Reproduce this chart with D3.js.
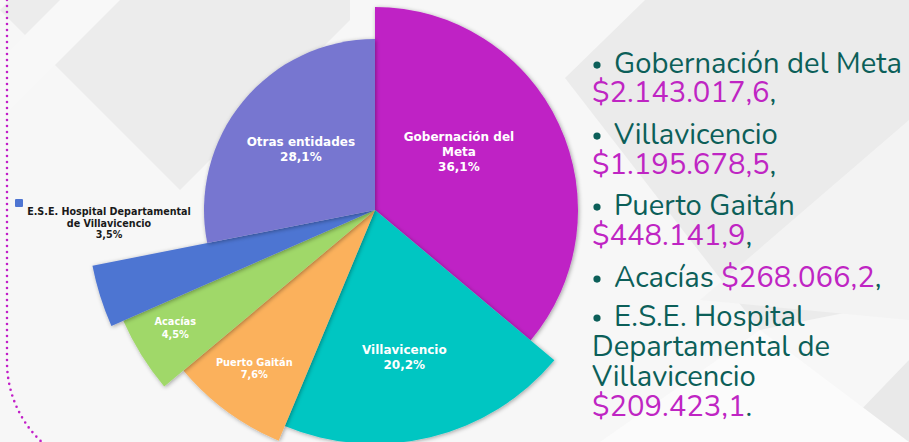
<!DOCTYPE html>
<html>
<head>
<meta charset="utf-8">
<script src="https://cdn.jsdelivr.net/npm/d3@7"></script>
<style>
  html, body { margin: 0; padding: 0; background: #f7f7f7; }
  svg { display: block; }
</style>
</head>
<body>
<div id="viz"></div>
<script>
// slices, clockwise from 12 o'clock
const names = ['Gobernación del Meta', 'Villavicencio', 'Puerto Gaitán', 'Acacías', 'E.S.E. Hospital Departamental de Villavicencio', 'Otras entidades'];
const pctLabels = ['36,1%', '20,2%', '7,6%', '4,5%', '3,5%', '28,1%'];
const shares = [36.1, 20.2, 7.6, 4.5, 3.5, 28.1];
// values listed on the right
const listNames = ['Gobernación del Meta', 'Villavicencio', 'Puerto Gaitán', 'Acacías', 'E.S.E. Hospital Departamental de Villavicencio'];
const listAmounts = ['$2.143.017,6', '$1.195.678,5', '$448.141,9', '$268.066,2', '$209.423,1'];

const colors = ['#bf23c5', '#06c6c2', '#fbb15c', '#a0d869', '#4e75d2', '#7776d0'];

const width = 909, height = 442;
const cx = 375, cy = 210;

const svg = d3.select('#viz').append('svg')
    .attr('width', width)
    .attr('height', height);

const defs = svg.append('defs');
const sh = defs.append('filter').attr('id', 'shadow')
    .attr('x', '-20%').attr('y', '-20%').attr('width', '140%').attr('height', '140%');
sh.append('feDropShadow').attr('dx', 1).attr('dy', 1).attr('stdDeviation', 2)
    .attr('flood-color', '#000').attr('flood-opacity', 0.35);

// slide background
const bg = svg.append('g');
bg.append('rect').attr('width', width).attr('height', height).attr('fill', '#f7f7f7');
bg.append('polygon').attr('points', '10,0 350,0 350,20 180,190 0,10').attr('fill', '#ececec');
bg.append('polygon').attr('points', '0,60 60,0 120,0 0,120').attr('fill', '#f8f8f8');
bg.append('polygon').attr('points', '565,78 645,0 909,0 909,300 760,330').attr('fill', '#ebebeb');
bg.append('polygon').attr('points', '700,300 909,120 909,320').attr('fill', '#f3f3f3');
bg.append('polygon').attr('points', '830,442 909,360 909,442').attr('fill', '#e9e9e9');
bg.append('polygon').attr('points', '600,442 760,330 909,442').attr('fill', '#fbfbfb');

// dotted border line on the left
svg.append('path')
    .attr('d', 'M7,0 V360 A110,110 0 0 0 54,452')
    .attr('fill', 'none')
    .attr('stroke', '#c21fc8')
    .attr('stroke-width', 2.6)
    .attr('stroke-linecap', 'round')
    .attr('stroke-dasharray', '0 6');

// each slice has its own outer radius in the original
const outerR = [203, 234, 250, 275, 288, 171];
const labelR = [102, 150, 199, 232, 0, 96];
const labelTurn = [-9.6, 2.4, 1, 1.3, 0, 0];
const labelSize = [12, 12, 9.8, 9.8, 0, 12];

const pie = d3.pie().sort(null).value(d => d);
const arcs = pie(shares);

const g = svg.append('g').attr('transform', 'translate(' + cx + ',' + cy + ')');

g.selectAll('.slice')
    .data(arcs)
    .enter().append('path')
    .attr('class', 'slice')
    .attr('d', (d, i) => d3.arc().innerRadius(0).outerRadius(outerR[i])(d))
    .attr('fill', (d, i) => colors[i])
    .attr('filter', 'url(#shadow)');

// labels inside slices
const lines = [['Gobernación del', 'Meta'], ['Villavicencio'], ['Puerto Gaitán'], ['Acacías'], [], ['Otras entidades']];
arcs.forEach(function(d, i) {
    if (i == 4) return;
    let a = (d.startAngle + d.endAngle) / 2 + labelTurn[i] * Math.PI / 180;
    let x = Math.sin(a) * labelR[i], y = -Math.cos(a) * labelR[i];
    let txt = lines[i].concat([pctLabels[i]]);
    let lh = labelSize[i] * 1.25;
    let t = g.append('text')
        .attr('text-anchor', 'middle')
        .attr('font-family', 'DejaVu Sans, Verdana, sans-serif')
        .attr('font-weight', 'bold')
        .attr('font-size', labelSize[i])
        .attr('fill', '#fff');
    txt.forEach(function(s, k) {
        t.append('tspan')
            .attr('x', x)
            .attr('y', y + (k - (txt.length - 1) / 2) * lh + labelSize[i] * 0.36)
            .text(s);
    });
});

// outside label for the hospital with its key square
const ese = svg.append('g');
ese.append('rect').attr('x', 15).attr('y', 199).attr('width', 8).attr('height', 8)
    .attr('rx', 1).attr('fill', colors[4]);
const eseText = ese.append('text')
    .attr('text-anchor', 'middle')
    .attr('font-family', 'DejaVu Sans, Verdana, sans-serif')
    .attr('font-weight', 'bold')
    .attr('font-size', 9.6)
    .attr('fill', '#1a1a1a');
['E.S.E. Hospital Departamental', 'de Villavicencio', pctLabels[4]].forEach(function(s, k) {
    eseText.append('tspan').attr('x', 109).attr('y', 215 + k * 11.5).text(s);
});

// list on the right
const teal = '#0c5f59', magenta = '#bf25c3';
const fontList = 'Nunito, Lato, "Noto Sans", sans-serif';
let fs = 27;
const probe = svg.append('text').attr('font-family', fontList).attr('font-size', fs).text(listNames[0]);
fs = fs * 288 / probe.node().getComputedTextLength();
probe.remove();

const list = svg.append('g')
    .attr('font-family', fontList)
    .attr('font-size', fs);

function bullet(y) {
    list.append('circle').attr('cx', 597).attr('cy', y - fs * 0.27).attr('r', 3.6).attr('fill', teal);
}
function line(x, y, parts) {
    let t = list.append('text').attr('x', x).attr('y', y);
    parts.forEach(p => t.append('tspan').attr('fill', p[1]).text(p[0]));
}

bullet(73);  line(614, 73, [[listNames[0], teal]]);
line(592, 102, [[listAmounts[0], magenta], [',', teal]]);
bullet(144); line(614, 144, [[listNames[1], teal]]);
line(592, 174, [[listAmounts[1], magenta], [',', teal]]);
bullet(215); line(614, 215, [[listNames[2], teal]]);
line(592, 245, [[listAmounts[2], magenta], [',', teal]]);
bullet(287); line(614, 287, [[listNames[3] + ' ', teal], [listAmounts[3], magenta], [',', teal]]);
bullet(326); line(614, 326, [['E.S.E. Hospital', teal]]);
line(592, 356, [['Departamental de', teal]]);
line(592, 386, [['Villavicencio', teal]]);
line(592, 416, [[listAmounts[4], magenta], ['.', teal]]);
</script>
</body>
</html>
